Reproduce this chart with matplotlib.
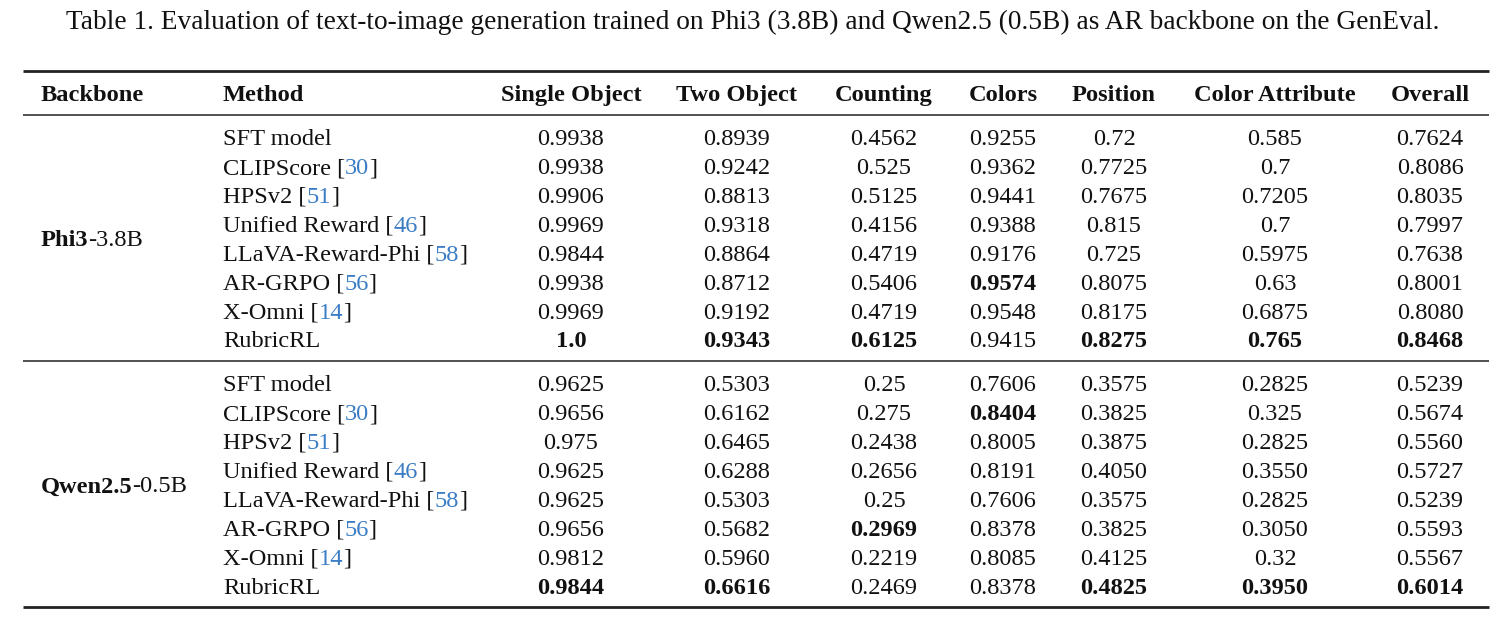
import matplotlib
matplotlib.use("Agg")
import matplotlib.pyplot as plt

# ---------------- data ----------------
title = "Table 1. Evaluation of text-to-image generation trained on Phi3 (3.8B) and Qwen2.5 (0.5B) as AR backbone on the GenEval."
columns = ["Single Object", "Two Object", "Counting", "Colors", "Position", "Color Attribute", "Overall"]
methods = ["SFT model", "CLIPScore", "HPSv2", "Unified Reward", "LLaVA-Reward-Phi", "AR-GRPO", "X-Omni", "RubricRL"]
citations = ["", "30", "51", "46", "58", "56", "14", ""]

backbones = [("Phi3", "-3.8B"), ("Qwen2.5", "-0.5B")]

phi3_values = [
    ["0.9938", "0.8939", "0.4562", "0.9255", "0.72", "0.585", "0.7624"],
    ["0.9938", "0.9242", "0.525", "0.9362", "0.7725", "0.7", "0.8086"],
    ["0.9906", "0.8813", "0.5125", "0.9441", "0.7675", "0.7205", "0.8035"],
    ["0.9969", "0.9318", "0.4156", "0.9388", "0.815", "0.7", "0.7997"],
    ["0.9844", "0.8864", "0.4719", "0.9176", "0.725", "0.5975", "0.7638"],
    ["0.9938", "0.8712", "0.5406", "0.9574", "0.8075", "0.63", "0.8001"],
    ["0.9969", "0.9192", "0.4719", "0.9548", "0.8175", "0.6875", "0.8080"],
    ["1.0", "0.9343", "0.6125", "0.9415", "0.8275", "0.765", "0.8468"],
]
phi3_bold = [
    [0, 0, 0, 0, 0, 0, 0],
    [0, 0, 0, 0, 0, 0, 0],
    [0, 0, 0, 0, 0, 0, 0],
    [0, 0, 0, 0, 0, 0, 0],
    [0, 0, 0, 0, 0, 0, 0],
    [0, 0, 0, 1, 0, 0, 0],
    [0, 0, 0, 0, 0, 0, 0],
    [1, 1, 1, 0, 1, 1, 1],
]
qwen_values = [
    ["0.9625", "0.5303", "0.25", "0.7606", "0.3575", "0.2825", "0.5239"],
    ["0.9656", "0.6162", "0.275", "0.8404", "0.3825", "0.325", "0.5674"],
    ["0.975", "0.6465", "0.2438", "0.8005", "0.3875", "0.2825", "0.5560"],
    ["0.9625", "0.6288", "0.2656", "0.8191", "0.4050", "0.3550", "0.5727"],
    ["0.9625", "0.5303", "0.25", "0.7606", "0.3575", "0.2825", "0.5239"],
    ["0.9656", "0.5682", "0.2969", "0.8378", "0.3825", "0.3050", "0.5593"],
    ["0.9812", "0.5960", "0.2219", "0.8085", "0.4125", "0.32", "0.5567"],
    ["0.9844", "0.6616", "0.2469", "0.8378", "0.4825", "0.3950", "0.6014"],
]
qwen_bold = [
    [0, 0, 0, 0, 0, 0, 0],
    [0, 0, 0, 1, 0, 0, 0],
    [0, 0, 0, 0, 0, 0, 0],
    [0, 0, 0, 0, 0, 0, 0],
    [0, 0, 0, 0, 0, 0, 0],
    [0, 0, 1, 0, 0, 0, 0],
    [0, 0, 0, 0, 0, 0, 0],
    [1, 1, 0, 0, 1, 1, 1],
]
groups = [(phi3_values, phi3_bold), (qwen_values, qwen_bold)]

# ---------------- layout ----------------
W, H = 1512, 622
FONT = "Liberation Serif"
FS = 17.6
TITLE_FS = 19.7
BLUE = "#3b7dc4"
INK = "#111111"
RULE = "#222222"

col_x = [571, 737, 884, 1003, 1114, 1275, 1430]
x_backbone = 41
x_method = 223
header_y = 93
group_row0 = [137, 383]
row_step = 28.9
base_off = 8.2
rules = [(70.5, 2.0), (114.5, 1.1), (361, 1.1), (607, 2.0)]
rule_x0, rule_x1 = 23, 1489

fig = plt.figure(figsize=(W / 100, H / 100), dpi=100)
ax = fig.add_axes([0, 0, 1, 1])
ax.set_xlim(0, W)
ax.set_ylim(H, 0)
ax.axis("off")
fig.canvas.draw()
renderer = fig.canvas.get_renderer()


def px_width(t):
    bb = t.get_window_extent(renderer=renderer)
    return bb.width


def rich(x, y, pieces, ha="left", tighten=0.0):
    """pieces: list of (text, weight, color); y is baseline in data px."""
    objs = []
    widths = []
    for s, w, c in pieces:
        t = ax.text(0, y, s, fontsize=FS, family=FONT, weight=w, color=c,
                    ha="left", va="baseline")
        objs.append(t)
        widths.append(px_width(t) - tighten)
    total = sum(widths)
    cx = x - (total / 2 if ha == "center" else 0)
    for t, wd in zip(objs, widths):
        t.set_x(cx)
        cx += wd


# title
ax.text(W / 2 - 3, 29, title, fontsize=TITLE_FS, family=FONT, color=INK,
        ha="center", va="baseline")

# rules
for y, lw in rules:
    ax.plot([rule_x0, rule_x1], [y, y], color=RULE, lw=lw, solid_capstyle="butt")

# header
hb = header_y + base_off
ax.text(x_backbone, hb, "Backbone", fontsize=FS, family=FONT, weight="bold",
        color=INK, ha="left", va="baseline")
ax.text(x_method, hb, "Method", fontsize=FS, family=FONT, weight="bold",
        color=INK, ha="left", va="baseline")
for cx, name in zip(col_x, columns):
    ax.text(cx, hb, name, fontsize=FS, family=FONT, weight="bold",
            color=INK, ha="center", va="baseline")

# body
for gi, ((vals, bold), (bb_bold, bb_reg)) in enumerate(zip(groups, backbones)):
    y0 = group_row0[gi]
    ys = [y0 + i * row_step for i in range(len(methods))]
    mid = (ys[0] + ys[-1]) / 2
    rich(x_backbone, mid + base_off, [(bb_bold, "bold", INK), (bb_reg, "normal", INK)], tighten=0.6)
    for i, (m, c) in enumerate(zip(methods, citations)):
        yb = ys[i] + base_off
        if c:
            rich(x_method, yb, [(m + " [", "normal", INK), (c, "normal", BLUE), ("]", "normal", INK)])
        else:
            ax.text(x_method, yb, m, fontsize=FS, family=FONT, color=INK,
                    ha="left", va="baseline")
        for j, cx in enumerate(col_x):
            ax.text(cx, yb, vals[i][j], fontsize=FS, family=FONT,
                    weight="bold" if bold[i][j] else "normal", color=INK,
                    ha="center", va="baseline")

fig.savefig("out.png", dpi=100, facecolor="white")
